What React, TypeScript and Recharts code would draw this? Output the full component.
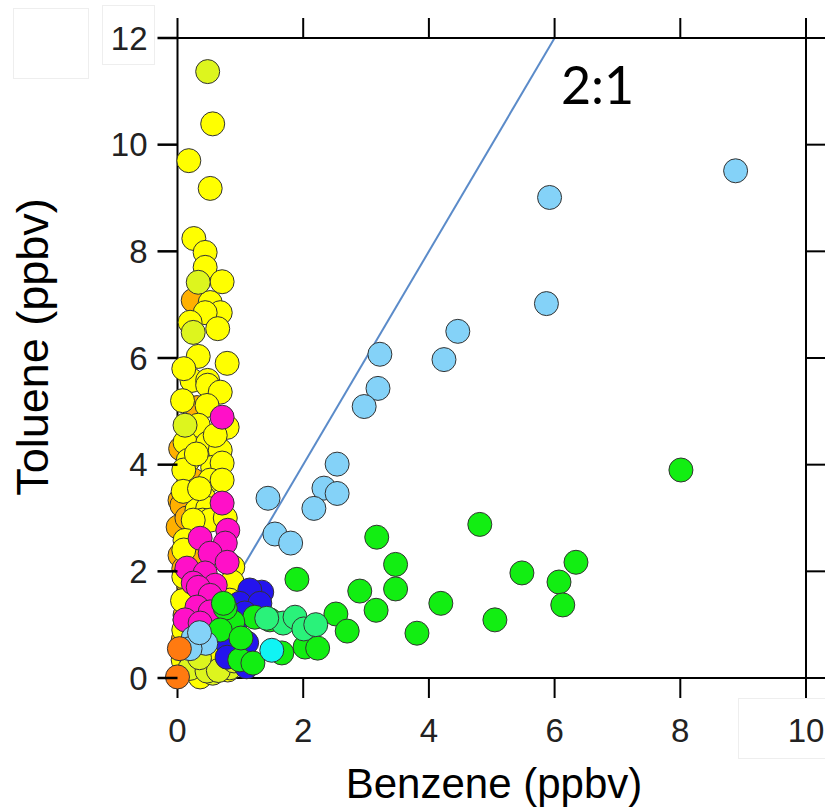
import React from 'react'
import { ScatterChart, Scatter, XAxis, YAxis, ReferenceLine, ReferenceDot } from 'recharts'

// benzene (x) vs toluene (y), ppbv, grouped by marker colour
const orangePts: [number, number][] = [
  [0.25, 7.08], [0.31, 5.07], [0.25, 3.71], [0.04, 3.33], [0.07, 3.24], [0.01, 2.83],
  [0.25, 2.27], [0.04, 2.3], [0.17, 1.78], [0.12, 1.18], [0.09, 0.71], [0.05, 4.3],
  [0.15, 3.0], [0.1, 2.05],
]
const yellowPts: [number, number][] = [
  [0.56, 10.39], [0.18, 9.7], [0.52, 9.18], [0.26, 8.24], [0.44, 7.98], [0.44, 7.7],
  [0.71, 7.43], [0.52, 7.04], [0.68, 6.85], [0.44, 6.85], [0.2, 6.67], [0.64, 6.55],
  [0.33, 6.03], [0.79, 5.9], [0.23, 5.58], [0.48, 5.58], [0.48, 5.49], [0.68, 5.36],
  [0.47, 5.11], [0.33, 4.74], [0.79, 4.7], [0.12, 4.42], [0.48, 4.4], [0.68, 4.27],
  [0.17, 4.08], [0.56, 3.95], [0.71, 4.03], [0.52, 3.71], [0.71, 3.71], [0.41, 3.39],
  [0.31, 3.15], [0.48, 3.18], [0.4, 2.96], [0.52, 2.96], [0.76, 3.0], [0.25, 2.96],
  [0.88, 2.08], [0.87, 1.8], [0.12, 2.58], [0.2, 1.46], [0.12, 1.09], [0.6, 1.46],
  [0.83, 1.46], [0.09, 0.34], [0.31, 0.28], [0.52, 0.21], [0.8, 0.15], [0.36, 0.02],
  [0.2, 0.43], [0.1, 5.8], [0.08, 5.2], [0.1, 3.9], [0.09, 3.5], [0.1, 2.4],
  [0.1, 1.9], [0.08, 1.45], [0.1, 0.9], [0.55, 0.5], [0.7, 0.35], [0.3, 4.2],
  [0.6, 4.55], [0.35, 3.55],
]
const yellowGreenPts: [number, number][] = [
  [0.48, 11.37], [0.33, 7.42], [0.25, 6.48], [0.12, 4.74], [0.56, 0.09], [0.83, 0.19],
  [0.2, 0.18], [0.47, 0.13], [0.65, 0.14], [0.35, 0.38], [0.9, 0.32],
]
const magentaPts: [number, number][] = [
  [0.71, 4.89], [0.71, 3.28], [0.8, 2.77], [0.36, 2.62], [0.76, 2.53], [0.52, 2.34],
  [0.79, 2.17], [0.15, 2.06], [0.44, 1.97], [0.6, 1.74], [0.25, 1.78], [0.33, 1.7],
  [0.52, 1.55], [0.31, 1.33], [0.52, 1.24], [0.12, 1.09], [0.36, 1.03],
]
const bluePts: [number, number][] = [
  [1.34, 1.61], [1.15, 1.65], [0.99, 1.4], [1.31, 1.4], [1.07, 1.22], [0.99, 0.71],
  [0.79, 0.66], [1.1, 0.66], [1.1, 0.21], [0.79, 0.39], [0.91, 1.0],
]
const greenPts: [number, number][] = [
  [8.01, 3.9], [6.34, 2.17], [6.07, 1.8], [6.13, 1.37], [5.48, 1.97], [5.05, 1.09],
  [4.81, 2.88], [4.19, 1.4], [3.81, 0.84], [3.17, 2.64], [3.47, 2.13], [3.47, 1.67],
  [2.9, 1.63], [3.16, 1.27], [2.52, 1.2], [2.7, 0.88], [1.9, 1.85], [1.23, 1.14],
  [1.47, 1.09], [0.88, 1.05], [0.76, 1.31], [0.68, 0.9], [0.99, 0.34], [1.2, 0.28],
  [1.66, 0.47], [2.03, 0.58], [2.23, 0.56], [0.73, 1.4], [1.01, 0.75],
]
const springPts: [number, number][] = [
  [1.68, 1.03], [1.87, 1.14], [2.01, 0.92], [1.42, 1.12], [2.2, 1.0],
]
const cyanPts: [number, number][] = [[1.5, 0.52]]
const lightBluePts: [number, number][] = [
  [8.88, 9.51], [5.92, 9.01], [5.87, 7.02], [4.46, 6.5], [4.24, 5.97], [3.22, 6.07],
  [3.19, 5.43], [2.97, 5.09], [2.54, 4.01], [2.33, 3.56], [2.54, 3.46], [2.17, 3.18],
  [1.44, 3.37], [1.55, 2.7], [1.8, 2.53], [0.25, 0.75], [0.45, 0.65], [0.2, 0.55],
  [0.35, 0.85],
]
const darkOrangePts: [number, number][] = [[0.03, 0.55], [0.0, 0.02]]

const X_TICKS = [0, 2, 4, 6, 8, 10]
const Y_TICKS = [0, 2, 4, 6, 8, 10, 12]

const groups = [
  { name: 'orange', pts: orangePts, color: '#FFB000' },
  { name: 'yellow', pts: yellowPts, color: '#FFFF00' },
  { name: 'yellowgreen', pts: yellowGreenPts, color: '#DDF51E' },
  { name: 'magenta', pts: magentaPts, color: '#FF10C8' },
  { name: 'blue', pts: bluePts, color: '#2414EE' },
  { name: 'green', pts: greenPts, color: '#12EE12' },
  { name: 'spring', pts: springPts, color: '#2AF27A' },
  { name: 'cyan', pts: cyanPts, color: '#10F4F4' },
  { name: 'lightblue', pts: lightBluePts, color: '#84D2F8' },
  { name: 'darkorange', pts: darkOrangePts, color: '#FF7A10' },
]

const dot = (color: string) => (props: any) => (
  <circle cx={props.cx} cy={props.cy} r={12} fill={color} stroke="#333" strokeWidth={1} />
)

const font = '"Liberation Sans", Arial, sans-serif'
const TICK = 20
// plot box: left 177.5, top 38, 628.5 x 640 px for 10 x 12 units
const PLOT_L = 177.5
const PLOT_T = 38
const PLOT_H = 640
const TICK_X = (TICK * 10) / 628.5
const TICK_Y = (TICK * 12) / PLOT_H
const faintBox = (left: number, top: number, w: number, h: number): React.CSSProperties => ({
  position: 'absolute', left, top, width: w, height: h, border: '1px solid #eeeeee', background: '#fff',
})

const bottomLabel = (p: any) => (
  <text x={p.x} y={p.y + 21} dy="0.71em" textAnchor="middle" fontSize={33} fontFamily={font} fill="#222">
    {p.payload.value}
  </text>
)
const leftLabel = (p: any) => (
  <text x={p.x - 10} y={p.y} dy="0.355em" textAnchor="end" fontSize={33} fontFamily={font} fill="#222">
    {p.payload.value}
  </text>
)

// outward tick marks (Igor style mirror axes)
const tickSegs: { x: number; y: number }[][] = [
  ...X_TICKS.map((v) => [{ x: v, y: 0 }, { x: v, y: -TICK_Y }]),
  ...X_TICKS.map((v) => [{ x: v, y: 12 }, { x: v, y: 12 + TICK_Y }]),
  ...Y_TICKS.map((v) => [{ x: 10, y: v }, { x: 10 + TICK_X, y: v }]),
]

export default function App() {
  return (
    <div style={{ position: 'absolute', left: 0, top: 0, width: 825, height: 810, background: '#fff' }}>
      <div style={faintBox(13, 8, 74, 69)} />
      <div style={faintBox(102, 5, 51, 58)} />
      <div style={faintBox(738, 698, 90, 59)} />
      <div style={{ position: 'absolute', left: 0, top: 0 }}>
        <ScatterChart width={825} height={810} margin={{ top: 0, right: 0, bottom: 72, left: 117.5 }}>
          <XAxis
            xAxisId="b" type="number" dataKey="x" domain={[0, 10]} ticks={X_TICKS} height={60}
            tickSize={TICK} tickMargin={0} stroke="#000" strokeWidth={2} tick={bottomLabel} tickLine={false}
          />
          <XAxis
            xAxisId="t" orientation="top" type="number" dataKey="x" domain={[0, 10]} ticks={X_TICKS}
            height={38} tickSize={TICK} stroke="#000" strokeWidth={2} tick={false} tickLine={false}
          />
          <YAxis
            yAxisId="l" type="number" dataKey="y" domain={[0, 12]} ticks={Y_TICKS} width={60}
            tickSize={TICK} tickMargin={0} stroke="#000" strokeWidth={2} tick={leftLabel} tickLine={false}
          />
          <YAxis
            yAxisId="r" orientation="right" type="number" dataKey="y" domain={[0, 12]} ticks={Y_TICKS}
            width={19} tickSize={TICK} stroke="#000" strokeWidth={2} tick={false} tickLine={false}
          />
          {tickSegs.map((seg, i) => (
            <ReferenceLine
              key={`t${i}`}
              xAxisId="b" yAxisId="l"
              segment={seg}
              stroke="#000" strokeWidth={2}
              ifOverflow="visible"
            />
          ))}
          {groups.map((g) => (
            <Scatter
              key={g.name}
              xAxisId="b"
              yAxisId="l"
              data={g.pts.map(([x, y]) => ({ x, y }))}
              shape={dot(g.color)}
              isAnimationActive={false}
            />
          ))}
          <ReferenceLine
            xAxisId="b" yAxisId="l"
            segment={[{ x: 0, y: 0 }, { x: 6, y: 12 }]}
            stroke="#5B8BC9" strokeWidth={2}
          />
          <ReferenceDot
            xAxisId="b" yAxisId="l" x={6.1} y={10.77} r={0} fill="none" stroke="none"
            label={(p: any) => (
              <text x={p.viewBox.x} y={p.viewBox.y} fontSize={52} fontFamily="Lato, sans-serif" fill="#000">
                2:1
              </text>
            )}
          />
        </ScatterChart>
      </div>
      <svg width={825} height={810} style={{ position: 'absolute', left: 0, top: 0, pointerEvents: 'none' }}>
        {/* left-side ticks drawn on top as filled bars */}
        {Y_TICKS.map((v) => {
          const py = PLOT_T + ((12 - v) * PLOT_H) / 12
          return <rect key={v} x={PLOT_L - TICK} y={py - 1.25} width={TICK} height={2.5} fill="#000" />
        })}
        <text x={494} y={798} textAnchor="middle" fontSize={42} fontFamily={font} fill="#000">
          Benzene (ppbv)
        </text>
        <text x={48} y={347} textAnchor="middle" fontSize={45} fontFamily={font} fill="#000" transform="rotate(-90 48 347)">
          Toluene (ppbv)
        </text>
      </svg>
    </div>
  )
}
